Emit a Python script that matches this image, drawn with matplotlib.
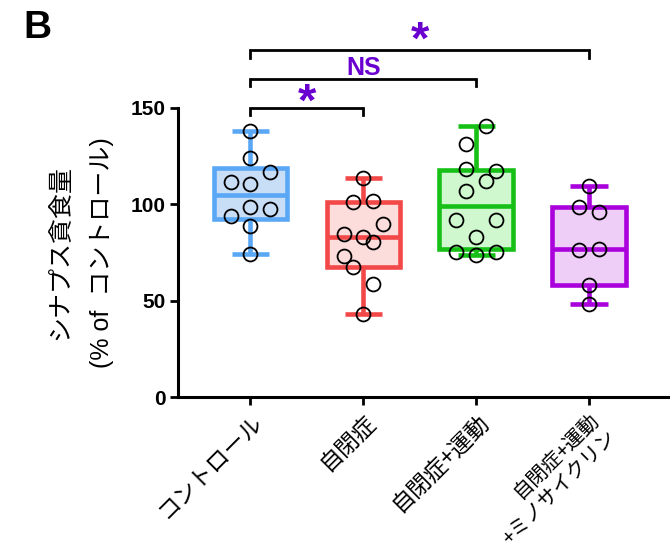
import numpy as np
import matplotlib.pyplot as plt

# values (% of control)
groups = ['コントロール', '自閉症', '自閉症+運動', '自閉症+運動\n+ミノサイクリン']
control = [137.8, 124.0, 116.7, 111.7, 110.7, 98.6, 97.7, 93.8, 88.8, 74.1]
autism = [113.6, 101.2, 101.7, 89.6, 84.3, 83.1, 80.5, 73.4, 67.5, 58.5, 43.0]
exercise = [140.4, 131.4, 118.0, 117.1, 111.9, 106.7, 91.7, 91.7, 83.1, 75.0, 73.6, 75.0]
minocycline = [109.7, 98.6, 96.0, 76.5, 76.7, 58.0, 48.2]
# horizontal spread of the dots (as drawn)
control_dx = [0, 0, 1, -1, 0, 0, 1, -1, 0, 0]
autism_dx = [0, -0.5, 0.5, 1, -1, 0, 0.5, -1, -0.5, 0.5, 0]
exercise_dx = [0.5, -0.5, -0.5, 1, 0.5, -0.5, -1, 1, 0, -1, 0, 1]
minocycline_dx = [0, -0.5, 0.5, -0.5, 0.5, 0, 0]
# significance: (group a, group b, label)
comparisons = [(0, 1, '*'), (0, 2, 'NS'), (0, 3, '*')]

data = [control, autism, exercise, minocycline]
spreads = [control_dx, autism_dx, exercise_dx, minocycline_dx]
edge_colors = ['#5aa8f5', '#f24848', '#16c016', '#a900dc']
face_colors = ['#c8ddf6', '#fddcdc', '#cff8cf', '#eecdf6']

plt.rcParams['font.family'] = ['Liberation Sans', 'Noto Sans CJK JP']

fig = plt.figure(figsize=(6.7, 5.47), dpi=100)
ax = fig.add_axes([0.266, 0.274, 0.731, 0.529])

stats = []
for vals in data:
    v = np.array(vals)
    q1, med, q3 = np.percentile(v, [25, 50, 75], method='weibull')
    stats.append({'med': med, 'q1': q1, 'q3': q3,
                  'whislo': v.min(), 'whishi': v.max(), 'fliers': []})

bp = ax.bxp(stats, positions=range(4), widths=0.65, patch_artist=True,
            showfliers=False, capwidths=0.33)
for i in range(4):
    c = edge_colors[i]
    bp['boxes'][i].set(facecolor=face_colors[i], edgecolor=c, linewidth=3.3)
    bp['medians'][i].set(color=c, linewidth=3.3)
    for k in (2 * i, 2 * i + 1):
        bp['whiskers'][k].set(color=c, linewidth=3.3, solid_capstyle='butt')
        bp['caps'][k].set(color=c, linewidth=3.3, solid_capstyle='butt')

for i, (vals, dx) in enumerate(zip(data, spreads)):
    xs = i + np.array(dx) * 0.175
    ax.plot(xs, vals, 'o', ms=10, mfc='none', mec='black', mew=1.3, zorder=5)

ax.set_xlim(-0.64, 3.70)
ax.set_ylim(0, 150)
ax.set_yticks([0, 50, 100, 150])
ax.set_xticks(range(4))
ax.set_xticklabels(groups, rotation=45, ha='right', va='top',
                   rotation_mode='anchor', fontsize=16.5,
                   family=['Noto Sans CJK JP', 'DejaVu Sans'])
ax.get_xticklabels()[3].set(fontsize=14.5, linespacing=1.15)
for lab in ax.get_yticklabels():
    lab.set_fontweight('bold')
    lab.set_fontsize(15)
ax.tick_params(axis='both', width=2, length=6, pad=3)
for s in ('top', 'right'):
    ax.spines[s].set_visible(False)
for s in ('left', 'bottom'):
    ax.spines[s].set_linewidth(2.2)

# brackets
bracket_y = [150.1, 165.1, 179.8]
label_dy = [-9.5, -0.5, -7.0]
drop = 4.0
for (a, b, label), y, dy in zip(comparisons, bracket_y, label_dy):
    ax.plot([a, a, b, b], [y - drop, y, y, y - drop], color='black',
            lw=2, clip_on=False, solid_joinstyle='miter')
    xm = (a + b) / 2
    size = 34 if label == '*' else 18
    ax.text(xm, y + dy, label, ha='center', va='bottom', fontsize=size,
            fontweight='bold', color='#6a00d0', clip_on=False)

fig.text(0.09, 0.539, 'シナプス貪食量', rotation=90, ha='center', va='center',
         fontsize=18, family=['Noto Sans CJK JP'])
fig.text(0.152, 0.539, '(% of  コントロール)', rotation=90, ha='center',
         va='center', fontsize=18, family=['Liberation Sans', 'Noto Sans CJK JP'])
fig.text(0.035, 0.93, 'B', fontsize=28, fontweight='bold', ha='left', va='baseline')

fig.savefig('out.png', dpi=100)
